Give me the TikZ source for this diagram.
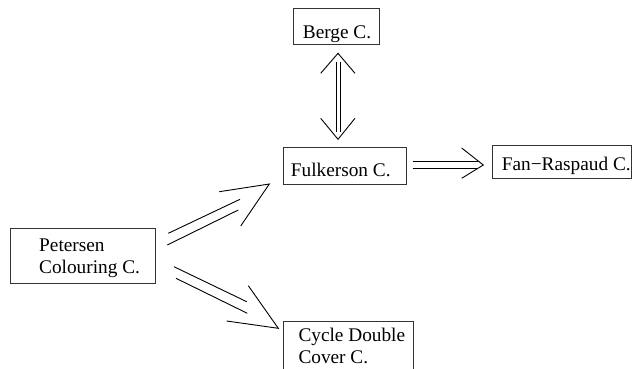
\documentclass[tikz,border=0pt]{standalone}
\usepackage{fontspec}
\setmainfont{Liberation Serif}
\begin{document}
\begin{tikzpicture}[x=1pt,y=-1pt,
  boxshape/.style={draw=black!80,line width=0.9pt,rectangle,inner sep=0pt},
  txt/.style={anchor=base west,inner sep=0pt,font=\fontsize{19.3}{21.6}\selectfont},
  arr/.style={draw=black,line width=0.9pt}]
\useasboundingbox (0,0) rectangle (633,368);
% boxes
\node[boxshape,minimum width=86pt,minimum height=36pt] (bergebox) at (336,26) {};
\node[boxshape,minimum width=122.7pt,minimum height=36.6pt] (fulkbox) at (344.7,166) {};
\node[boxshape,minimum width=139pt,minimum height=33.3pt] (fanbox) at (562.2,161.7) {};
\node[boxshape,minimum width=145pt,minimum height=55pt] (petbox) at (82.5,255.8) {};
\node[boxshape,minimum width=130pt,minimum height=56pt] (cycbox) at (348.3,349.7) {};
% texts
\node[txt] (berge) at (302.7,38) {Berge C.};
\node[txt] (fulk) at (290.7,176.7) {Fulkerson C.};
\node[txt] (fan) at (501.7,170) {Fan−Raspaud C.};
\node[txt] (pet1) at (39,251.7) {Petersen};
\node[txt] (pet2) at (39,273.3) {Colouring C.};
\node[txt] (cyc1) at (298.3,341.7) {Cycle Double};
\node[txt] (cyc2) at (298.3,363.3) {Cover C.};
% vertical double arrow Berge <-> Fulkerson
\coordinate (va1) at (336,61.7);
\coordinate (vb1) at (336,131.7);
\coordinate (va2) at (340.7,61.7);
\coordinate (vb2) at (340.7,131.7);
\coordinate (vtl) at (320.7,73.3);
\coordinate (vtp) at (338,53.3);
\coordinate (vtr) at (355,73.3);
\coordinate (vbl) at (320.7,118.3);
\coordinate (vbp) at (338,139.3);
\coordinate (vbr) at (355,118.3);
\draw[arr] (va1) -- (vb1);
\draw[arr] (va2) -- (vb2);
\draw[arr] (vtl) -- (vtp) -- (vtr);
\draw[arr] (vbl) -- (vbp) -- (vbr);
% horizontal Fulkerson => Fan-Raspaud
\coordinate (ha1) at (412.7,161.7);
\coordinate (hb1) at (478,161.7);
\coordinate (ha2) at (412.7,168.3);
\coordinate (hb2) at (478,168.3);
\coordinate (hl) at (461.7,148);
\coordinate (hp) at (483.3,165);
\coordinate (hr) at (461.7,178.3);
\draw[arr] (ha1) -- (hb1);
\draw[arr] (ha2) -- (hb2);
\draw[arr] (hl) -- (hp) -- (hr);
% Petersen => Fulkerson
\coordinate (ua1) at (168.3,233.3);
\coordinate (ub1) at (240,199.3);
\coordinate (ua2) at (167.3,245);
\coordinate (ub2) at (238.3,210);
\coordinate (ul) at (219.3,191.7);
\coordinate (up) at (269.3,184);
\coordinate (ur) at (240.7,226);
\draw[arr] (ua1) -- (ub1);
\draw[arr] (ua2) -- (ub2);
\draw[arr] (ul) -- (up) -- (ur);
% Petersen => Cycle Double Cover
\coordinate (da1) at (174,266.7);
\coordinate (db1) at (246.7,301.7);
\coordinate (da2) at (176,278.3);
\coordinate (db2) at (247.3,313.3);
\coordinate (dl) at (248.3,285.7);
\coordinate (dp) at (278.3,328.3);
\coordinate (dr) at (226.7,321);
\draw[arr] (da1) -- (db1);
\draw[arr] (da2) -- (db2);
\draw[arr] (dl) -- (dp) -- (dr);
\end{tikzpicture}
\end{document}
